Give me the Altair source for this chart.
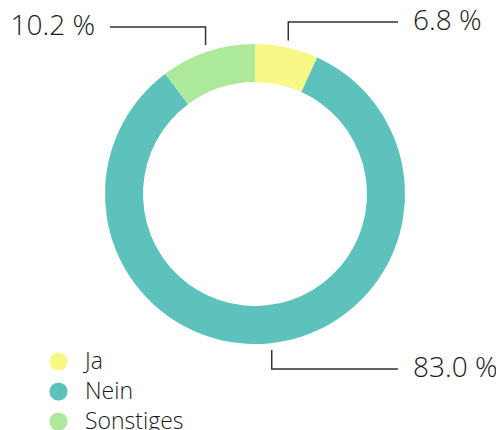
import altair as alt
import pandas as pd
import numpy as np

categories = ["Ja", "Nein", "Sonstiges"]
values = [6.8, 83.0, 10.2]
labels = ["6.8 %", "83.0 %", "10.2 %"]
colors = ["#F8F886", "#5DC2BB", "#ADE99B"]

FONT = "Open Sans"
W, H = 488, 422
CX, CY = 247, 186
R_OUT, R_IN = 150, 112
R_START, R_ELBOW = 157, 176
LINE_RIGHT, LINE_LEFT = 143, 145
TEXT_RIGHT, TEXT_LEFT = 158, 160

vals = np.array(values)
total = vals.sum()
cum = np.cumsum(vals)
mid = (cum - vals / 2) / total * 2 * np.pi

df = pd.DataFrame({"cat": categories, "value": values, "label": labels, "order": range(len(categories))})

rows = []
txt = []
for i, c in enumerate(categories):
    s, co = np.sin(mid[i]), np.cos(mid[i])
    xv = CX + R_START * s
    y1 = CY - R_START * co
    y2 = CY - R_ELBOW * co
    right = s >= 0
    xe = CX + LINE_RIGHT if right else CX - LINE_LEFT
    rows += [
        {"cat": c, "k": 0, "x": xv, "y": y1},
        {"cat": c, "k": 1, "x": xv, "y": y2},
        {"cat": c, "k": 2, "x": xe, "y": y2},
    ]
    txt.append({"cat": c, "label": labels[i], "side": "r" if right else "l",
                "x": CX + TEXT_RIGHT if right else CX - TEXT_LEFT, "y": y2})
lines_df = pd.DataFrame(rows)
txt_df = pd.DataFrame(txt)

xs = alt.Scale(domain=[0, W], range=[0, W], nice=False, zero=False)
ys = alt.Scale(domain=[0, H], range=[0, H], nice=False, zero=False)

arc = alt.Chart(df).mark_arc(outerRadius=R_OUT, innerRadius=R_IN).encode(
    theta=alt.Theta("value:Q", stack=True),
    color=alt.Color("cat:N", scale=alt.Scale(domain=categories, range=colors),
                    legend=alt.Legend(title=None, orient="none", legendX=39, legendY=342,
                                      symbolType="circle", symbolSize=330, symbolStrokeWidth=0,
                                      labelFontSize=23, labelFont=FONT, labelFontWeight=300,
                                      labelColor="#1a1a1a", labelOffset=15, rowPadding=6, padding=0)),
    order=alt.Order("order:Q"),
    x=alt.value(CX),
    y=alt.value(CY),
)

lines = alt.Chart(lines_df).mark_line(color="#333333", strokeWidth=1.5).encode(
    x=alt.X("x:Q", scale=xs, axis=None),
    y=alt.Y("y:Q", scale=ys, axis=None),
    detail="cat:N",
    order="k:Q",
)

text_r = alt.Chart(txt_df).transform_filter(alt.datum.side == "r").mark_text(
    align="left", baseline="middle", fontSize=28, font=FONT, fontWeight=300, color="#1a1a1a"
).encode(x=alt.X("x:Q", scale=xs, axis=None), y=alt.Y("y:Q", scale=ys, axis=None), text="label:N")

text_l = alt.Chart(txt_df).transform_filter(alt.datum.side == "l").mark_text(
    align="right", baseline="middle", fontSize=28, font=FONT, fontWeight=300, color="#1a1a1a"
).encode(x=alt.X("x:Q", scale=xs, axis=None), y=alt.Y("y:Q", scale=ys, axis=None), text="label:N")

chart = alt.layer(arc, lines, text_r, text_l).properties(
    width=W, height=H, autosize=alt.AutoSizeParams(type="none"), padding=0
).configure_view(stroke=None)

chart.save("out.html", embed_options={"renderer": "svg", "actions": False})
